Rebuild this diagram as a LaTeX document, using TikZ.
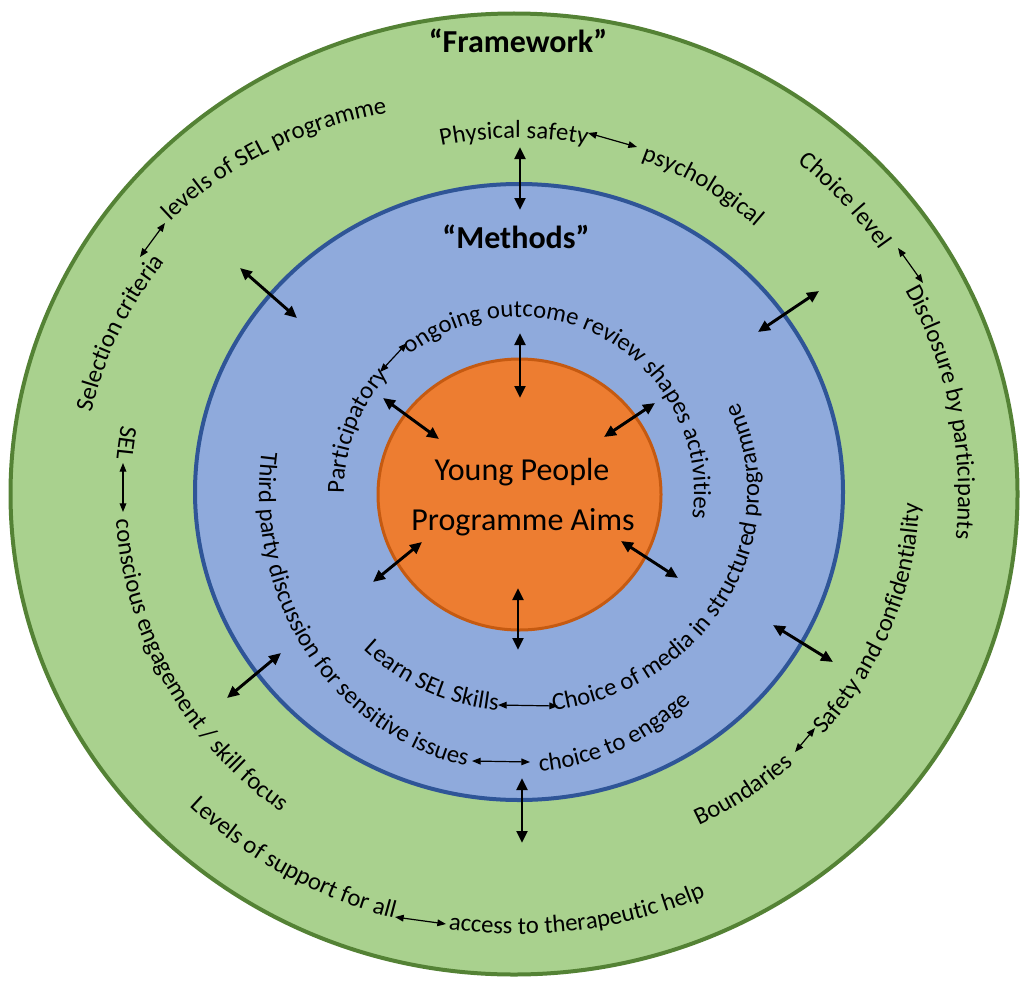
\documentclass[tikz,border=0pt]{standalone}
\usepackage{fontspec}
\setmainfont{Carlito}
\usetikzlibrary{decorations.text,arrows.meta}

\definecolor{frameFill}{HTML}{A9D18E}
\definecolor{frameLine}{HTML}{548235}
\definecolor{methFill}{HTML}{8FAADC}
\definecolor{methLine}{HTML}{2F5597}
\definecolor{coreFill}{HTML}{ED7D31}
\definecolor{coreLine}{HTML}{C55A11}

\newcommand\lblfont{\fontsize{18.5}{22}\selectfont}
% #1,#2 centre; #3,#4 radii; #5 mid angle; #6 signed half span (+ = clockwise); #7 text
\newcommand\ringtext[7]{%
  \path[decorate,decoration={text along path,text align=center,text={|\lblfont|#7}}]
    (#1,#2) ++({#5+(#6)}:#3 and #4)
    arc[start angle={#5+(#6)}, end angle={#5-(#6)}, x radius=#3, y radius=#4];}

\begin{document}
\begin{tikzpicture}[x=0.75pt,y=0.75pt,
  thinarrow/.style={line width=0.9pt,{Triangle[length=6.5pt,width=5pt]}-{Triangle[length=6.5pt,width=5pt]}},
  thickarrow/.style={line width=2.2pt,{Triangle[length=9pt,width=8pt]}-{Triangle[length=9pt,width=8pt]}},
  heading/.style={font=\fontsize{24}{28}\selectfont\bfseries, inner sep=0pt, anchor=base},
  coretext/.style={font=\fontsize{24}{28}\selectfont, inner sep=0pt, anchor=base}]
\useasboundingbox (0,0) rectangle (1020,-981);

% rings
\filldraw[fill=frameFill, draw=frameLine, line width=3pt] (514,-494) ellipse [x radius=503.5, y radius=480.5];
\filldraw[fill=methFill, draw=methLine, line width=3pt] (519,-492) ellipse [x radius=324, y radius=308];
\filldraw[fill=coreFill, draw=coreLine, line width=2.25pt] (519.5,-494.5) ellipse [x radius=141.5, y radius=135.5];

% headings and core
\node[heading] (framework) at (518,-53) {“Framework”};
\node[heading] (methods) at (516,-248) {“Methods”};
\node[coretext] (young) at (522,-480) {Young People};
\node[coretext] (aims) at (523,-530) {Programme Aims};

% framework ring labels
\ringtext{517}{-494}{362}{356}{90.5}{60}{Physical safety}
\ringtext{517}{-494}{362}{356}{59}{60}{psychological}
\ringtext{517}{-494}{441}{430}{42}{60}{Choice level}
\ringtext{517}{-494}{441}{430}{11}{60}{Disclosure by participants}
\ringtext{517}{-494}{402}{372}{-20}{-60}{Safety and confidentiality}
\ringtext{517}{-494}{402}{372}{-53.3}{-60}{Boundaries}
\ringtext{517}{-494}{465}{440}{239}{-60}{Levels of support for all}
\ringtext{517}{-494}{465}{440}{278}{-60}{access to therapeutic help}
\ringtext{517}{-494}{402}{393}{172.5}{-60}{SEL}
\ringtext{517}{-494}{402}{393}{208.6}{-60}{conscious engagement / skill focus}
\ringtext{517}{-494}{435}{395}{157.5}{60}{Selection criteria}
\ringtext{458}{-527}{420}{420}{116.5}{60}{levels of SEL programme}

% methods ring labels
\ringtext{519}{-492}{175}{175}{159.4}{80}{Participatory}
\ringtext{519}{-492}{175}{175}{60}{80}{ongoing outcome review shapes activities}
\ringtext{519}{-492}{260}{280}{216}{-80}{Third party discussion for sensitive issues}
\ringtext{519}{-492}{260}{280}{292}{-60}{choice to engage}
\ringtext{519}{-492}{224}{219}{245}{-60}{Learn SEL Skills}
\ringtext{519}{-492}{240}{221}{331.7}{-80}{Choice of media in structured programme}

% links between paired labels
\coordinate (psA) at (588,-133); \coordinate (psB) at (637,-147);
\coordinate (clA) at (898,-248); \coordinate (clB) at (923,-283);
\coordinate (sbA) at (815,-728); \coordinate (sbB) at (795,-752);
\coordinate (laA) at (395,-917); \coordinate (laB) at (446,-924);
\coordinate (seA) at (123,-463); \coordinate (seB) at (123,-512);
\coordinate (scA) at (140,-257); \coordinate (scB) at (165,-223);
\coordinate (poA) at (380,-372); \coordinate (poB) at (407,-343);
\coordinate (icA) at (472,-761); \coordinate (icB) at (530,-762);
\coordinate (lsA) at (498,-705); \coordinate (lsB) at (558,-706);
\foreach \p in {ps,cl,sb,la,se,sc,po,ic,ls} \draw[thinarrow] (\p A) -- (\p B);

% arrows between the rings
\coordinate (otA) at (520,-147); \coordinate (otB) at (520,-210);
\coordinate (obA) at (522,-778); \coordinate (obB) at (522,-843);
\coordinate (oulA) at (240,-268); \coordinate (oulB) at (297,-318);
\coordinate (ourA) at (758,-332); \coordinate (ourB) at (819,-291);
\coordinate (ollA) at (227,-698); \coordinate (ollB) at (281,-653);
\coordinate (olrA) at (773,-625); \coordinate (olrB) at (833,-662);
\coordinate (itA) at (520,-333); \coordinate (itB) at (520,-398);
\coordinate (ibA) at (518,-588); \coordinate (ibB) at (518,-650);
\coordinate (iulA) at (383,-398); \coordinate (iulB) at (439,-439);
\coordinate (iurA) at (604,-437); \coordinate (iurB) at (655,-403);
\coordinate (illA) at (373,-582); \coordinate (illB) at (422,-542);
\coordinate (ilrA) at (621,-541); \coordinate (ilrB) at (678,-578);
\foreach \p in {ot,ob,oul,our,oll,olr,it,ib,iul,iur,ill,ilr} \draw[thickarrow] (\p A) -- (\p B);
\end{tikzpicture}
\end{document}
